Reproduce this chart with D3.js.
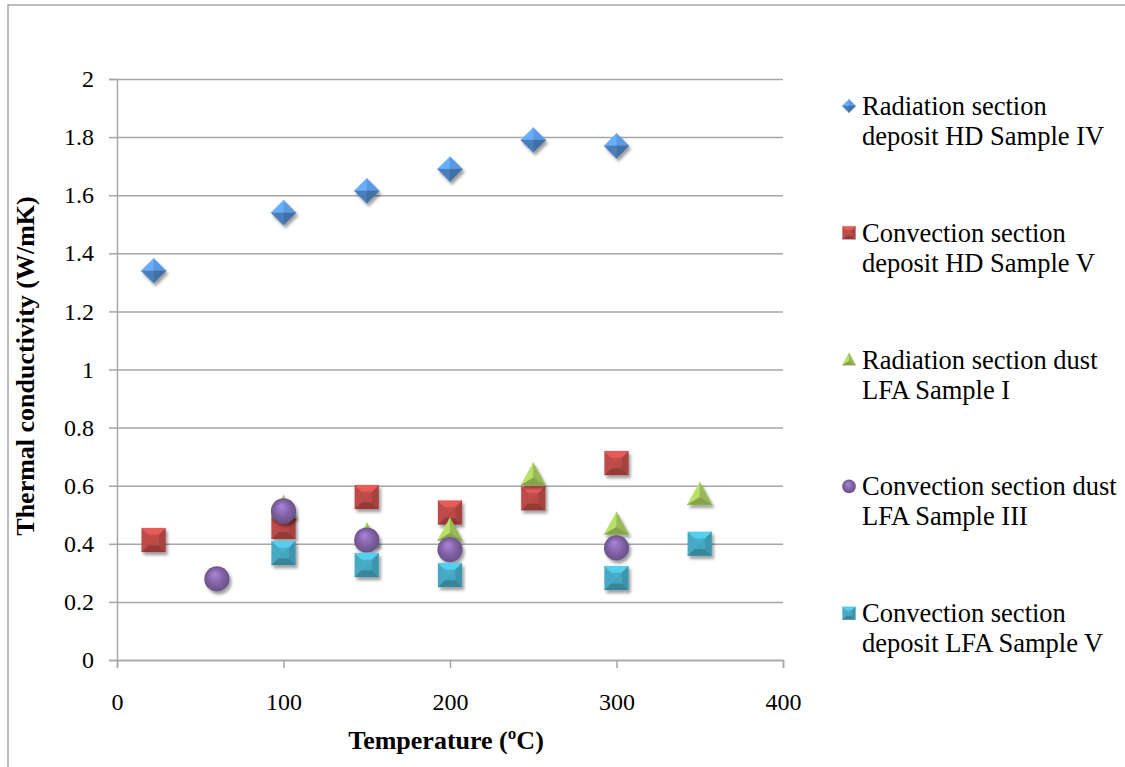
<!DOCTYPE html>
<html>
<head>
<meta charset="utf-8">
<script src="https://cdn.jsdelivr.net/npm/d3@7/dist/d3.min.js"></script>
<style>
  html, body { margin: 0; padding: 0; background: #fff; }
  svg { display: block; }
  svg text { font-family: "Liberation Serif", "Times New Roman", "DejaVu Serif", serif; fill: #000; }
</style>
</head>
<body>
<svg id="chart" width="1125" height="767"></svg>
<script>
// Temperature (°C) and thermal conductivity (W/mK) per sample
const xTicks = [0, 100, 200, 300, 400];
const yTicks = [0, 0.2, 0.4, 0.6, 0.8, 1, 1.2, 1.4, 1.6, 1.8, 2];

const radHD_IV_T = [22, 100, 150, 200, 250, 300];
const radHD_IV_k = [1.34, 1.54, 1.615, 1.69, 1.79, 1.77];

const convHD_V_T = [22, 100, 150, 200, 250, 300];
const convHD_V_k = [0.413, 0.458, 0.561, 0.508, 0.557, 0.678];

const radLFA_I_T = [100, 150, 200, 250, 300, 350];
const radLFA_I_k = [0.525, 0.43, 0.447, 0.637, 0.467, 0.57];

const convLFA_III_T = [60, 100, 150, 200, 300];
const convLFA_III_k = [0.279, 0.513, 0.413, 0.38, 0.386];

const convLFA_V_T = [100, 150, 200, 300, 350];
const convLFA_V_k = [0.368, 0.327, 0.293, 0.282, 0.40];

const seriesNames = [
  ["Radiation section", "deposit HD Sample IV"],
  ["Convection section", "deposit HD Sample V"],
  ["Radiation section dust", "LFA Sample I"],
  ["Convection section dust", "LFA Sample III"],
  ["Convection section", "deposit LFA Sample V"]
];
const seriesColors = ["#4a7ebb", "#be4b48", "#98b954", "#7d60a0", "#46aac5"];
const seriesShapes = ["diamond", "square", "triangle", "circle", "square"];

const series = [
  [radHD_IV_T, radHD_IV_k],
  [convHD_V_T, convHD_V_k],
  [radLFA_I_T, radLFA_I_k],
  [convLFA_III_T, convLFA_III_k],
  [convLFA_V_T, convLFA_V_k]
].map(([t, k], i) => ({
  name: seriesNames[i], color: seriesColors[i], shape: seriesShapes[i],
  points: t.map((v, j) => ({ x: v, y: k[j] }))
}));

const svg = d3.select("#chart");
const plot = { left: 117, right: 783, top: 79, bottom: 660 };

const x = d3.scaleLinear().domain([0, 400]).range([plot.left, plot.right]);
const y = d3.scaleLinear().domain([0, 2]).range([plot.bottom, plot.top]);

const defs = svg.append("defs");
const shadow = defs.append("filter").attr("id", "shadow")
  .attr("x", "-50%").attr("y", "-50%").attr("width", "200%").attr("height", "200%");
shadow.append("feDropShadow").attr("dx", 2).attr("dy", 3).attr("stdDeviation", 1.6)
  .attr("flood-color", "#000").attr("flood-opacity", 0.38);

// radial gradients for the glossy circles
series.forEach((s, i) => {
  const base = d3.color(s.color);
  const g = defs.append("radialGradient").attr("id", "rg" + i)
    .attr("cx", "50%").attr("cy", "50%").attr("r", "55%")
    .attr("fx", "40%").attr("fy", "30%");
  g.append("stop").attr("offset", "0%").attr("stop-color", base.brighter(0.9));
  g.append("stop").attr("offset", "60%").attr("stop-color", base);
  g.append("stop").attr("offset", "100%").attr("stop-color", base.darker(0.6));
});

// outer frame (top and left edges)
svg.append("path").attr("d", "M8,767 L8,5 L1125,5")
  .attr("fill", "none").attr("stroke", "#a6a6a6").attr("stroke-width", 1.5);

// horizontal gridlines
svg.append("g")
  .attr("transform", `translate(${plot.left},0)`)
  .call(d3.axisLeft(y).tickValues(yTicks).tickSize(-(plot.right - plot.left)).tickFormat(""))
  .call(g => g.select(".domain").remove())
  .call(g => g.selectAll("line").attr("stroke", "#a6a6a6").attr("stroke-width", 1.5));

// y axis
svg.append("g")
  .attr("transform", `translate(${plot.left},0)`)
  .call(d3.axisLeft(y).tickValues(yTicks).tickSize(8).tickPadding(15)
    .tickFormat(d => String(+d.toFixed(1))))
  .call(g => g.attr("font-family", null))
  .call(g => g.select(".domain").attr("stroke", "#a6a6a6").attr("stroke-width", 1.5))
  .call(g => g.selectAll("line").attr("stroke", "#a6a6a6").attr("stroke-width", 1.5))
  .call(g => g.selectAll("text").attr("font-size", 24));

// x axis
svg.append("g")
  .attr("transform", `translate(0,${plot.bottom})`)
  .call(d3.axisBottom(x).tickValues(xTicks).tickSize(8).tickPadding(25))
  .call(g => g.attr("font-family", null))
  .call(g => g.select(".domain").attr("stroke", "#a6a6a6").attr("stroke-width", 1.5))
  .call(g => g.selectAll("line").attr("stroke", "#a6a6a6").attr("stroke-width", 1.5))
  .call(g => g.selectAll("text").attr("font-size", 24));

// axis titles
svg.append("text")
  .attr("x", 446).attr("y", 749)
  .attr("text-anchor", "middle").attr("font-weight", "bold").attr("font-size", 26)
  .text("Temperature (ºC)");

svg.append("text")
  .attr("transform", `translate(34,366) rotate(-90)`)
  .attr("text-anchor", "middle").attr("font-weight", "bold").attr("font-size", 26)
  .text("Thermal conductivity (W/mK)");

// bevelled marker drawing
function drawMarker(g, shape, color, r, gi) {
  const base = d3.color(color);
  const light = base.brighter(0.55).toString();
  const lighter = base.brighter(0.9).toString();
  const dark = base.darker(0.35).toString();
  const darker = base.darker(0.7).toString();
  const c = color;
  const facet = (pts, fill) => g.append("path")
    .attr("d", "M" + pts.map(p => p.join(",")).join("L") + "Z")
    .attr("fill", fill).attr("stroke", fill).attr("stroke-width", 0.3);
  if (shape === "square") {
    const s = r, i = r * 0.45;
    facet([[-s, -s], [s, -s], [0, 0]], light);
    facet([[-s, -s], [0, 0], [-s, s]], c);
    facet([[s, -s], [s, s], [0, 0]], dark);
    facet([[-s, s], [0, 0], [s, s]], darker);
    g.append("rect").attr("x", -i).attr("y", -i).attr("width", 2 * i).attr("height", 2 * i)
      .attr("fill", c).attr("opacity", 0.85);
  } else if (shape === "diamond") {
    const s = r * 1.05;
    facet([[0, -s], [0, 0], [-s, 0]], lighter);
    facet([[0, -s], [s, 0], [0, 0]], light);
    facet([[-s, 0], [0, 0], [0, s]], c);
    facet([[s, 0], [0, s], [0, 0]], dark);
  } else if (shape === "triangle") {
    const h = r * 1.9, w = r * 1.05;
    const top = [0, -h * 0.55], bl = [-w, h * 0.45], br = [w, h * 0.45];
    const cen = [0, h * 0.12];
    facet([top, cen, bl], light);
    facet([top, br, cen], c);
    facet([bl, cen, br], dark);
  } else {
    g.append("circle").attr("r", r * 1.05).attr("fill", `url(#rg${gi})`);
  }
}

// series markers, drawn in series order
series.forEach((s, i) => {
  const layer = svg.append("g").attr("filter", "url(#shadow)");
  s.points.forEach(p => {
    const g = layer.append("g").attr("transform", `translate(${x(p.x)},${y(p.y)})`);
    drawMarker(g, s.shape, s.color, 12, i);
  });
});

// legend
const legend = svg.append("g");
series.forEach((s, i) => {
  const baseY = 115 + i * 126.8;
  const g = legend.append("g");
  const m = g.append("g").attr("transform", `translate(849,${baseY - 9})`);
  drawMarker(m, s.shape, s.color, 6.5, i);
  const t = g.append("text").attr("x", 862).attr("y", baseY).attr("font-size", 26.5);
  s.name.forEach((line, j) => {
    t.append("tspan").attr("x", 862).attr("y", baseY + j * 30).text(line);
  });
});
</script>
</body>
</html>
